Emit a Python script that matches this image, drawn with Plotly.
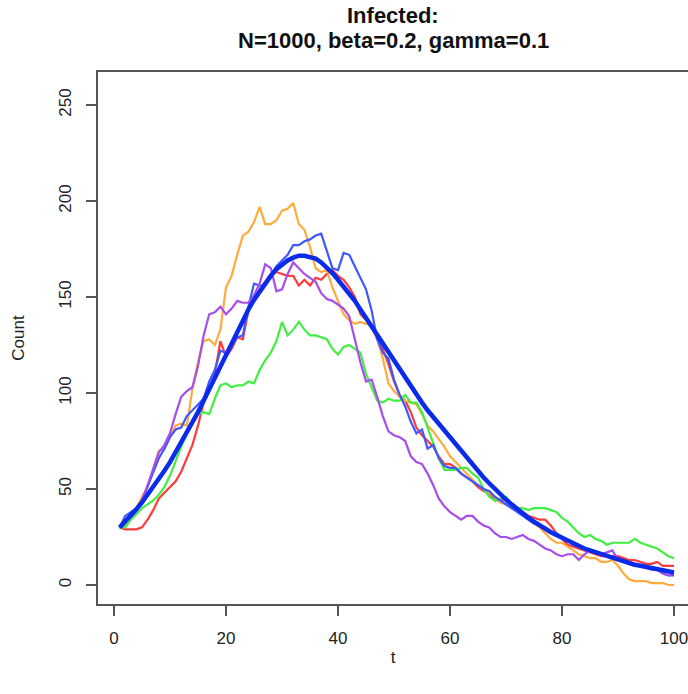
import plotly.graph_objects as go

# Time steps
t = list(range(1, 101))

# Stochastic SIR realisations: number infected at each time step
red = [30, 29, 29, 29, 30, 34, 39, 45, 48, 51, 54, 59, 66, 73, 83, 95, 101, 110, 127, 119,
       123, 129, 128, 143, 149, 154, 158, 162, 163, 162, 161, 161, 156, 159, 156, 160, 159, 162, 164, 161,
       159, 155, 150, 141, 138, 135, 128, 123, 115, 106, 99, 96, 90, 82, 78, 75, 72, 67, 63, 63,
       61, 58, 56, 54, 51, 49, 48, 44, 44, 45, 42, 40, 38, 36, 35, 34, 34, 31, 27, 24,
       21, 20, 19, 18, 17, 16, 15, 15, 15, 15, 14, 13, 13, 12, 11, 11, 12, 10, 10, 10]

orange = [30, 31, 34, 40, 46, 51, 60, 70, 71, 77, 83, 84, 83, 102, 116, 127, 128, 125, 133, 155,
          161, 172, 182, 184, 189, 197, 188, 188, 190, 195, 196, 199, 188, 185, 176, 165, 163, 164, 155, 148,
          141, 138, 136, 137, 136, 136, 128, 118, 105, 101, 98, 96, 95, 94, 89, 83, 80, 76, 72, 67,
          64, 61, 58, 55, 52, 50, 48, 46, 43, 42, 40, 39, 37, 34, 32, 30, 27, 24, 22, 22,
          20, 18, 16, 15, 14, 14, 12, 12, 13, 10, 6, 3, 2, 2, 2, 1, 1, 1, 0, 0]

green = [30, 30, 34, 37, 40, 42, 44, 47, 51, 57, 65, 72, 79, 84, 89, 90, 89, 97, 104, 105,
         103, 104, 104, 106, 105, 112, 117, 121, 127, 137, 130, 133, 137, 133, 130, 130, 129, 128, 123, 120,
         124, 125, 123, 121, 110, 103, 96, 95, 97, 96, 96, 99, 95, 95, 90, 82, 74, 66, 60, 60,
         60, 61, 61, 58, 56, 50, 46, 44, 45, 46, 42, 40, 40, 39, 40, 40, 40, 39, 38, 35,
         33, 30, 27, 25, 26, 24, 23, 21, 22, 22, 22, 22, 24, 22, 21, 20, 19, 17, 15, 14]

blue = [30, 36, 38, 40, 44, 51, 58, 66, 71, 77, 81, 82, 88, 91, 94, 97, 106, 112, 122, 121,
        125, 129, 130, 145, 157, 156, 156, 161, 166, 169, 172, 177, 177, 179, 180, 182, 183, 174, 165, 164,
        173, 172, 166, 160, 154, 143, 128, 121, 118, 107, 99, 93, 85, 79, 81, 71, 73, 66, 62, 61,
        61, 58, 56, 54, 52, 50, 49, 46, 44, 42, 40, 38, 36, 34, 32, 31, 30, 28, 27, 25,
        23, 21, 20, 19, 18, 17, 16, 15, 14, 14, 13, 12, 11, 10, 10, 9, 8, 6, 5, 5]

purple = [30, 33, 36, 40, 44, 52, 61, 69, 73, 79, 89, 98, 101, 103, 114, 130, 141, 142, 145, 141,
          144, 148, 147, 147, 151, 157, 167, 165, 153, 154, 162, 168, 165, 162, 160, 158, 152, 149, 148, 146,
          144, 140, 128, 116, 106, 107, 98, 88, 80, 78, 77, 75, 67, 64, 63, 58, 52, 45, 41, 38,
          36, 34, 36, 36, 33, 31, 30, 27, 25, 25, 24, 25, 26, 24, 23, 21, 19, 18, 16, 15,
          16, 16, 13, 16, 18, 17, 16, 17, 18, 13, 12, 11, 10, 10, 9, 8, 8, 6, 5, 6]

# Deterministic SIR solution
deterministic = [30, 33, 36, 39.5, 43, 47, 51, 55, 59.5, 64, 69, 74, 79, 84.5, 90, 96, 102, 108, 114, 120,
                 126, 132, 138, 143.5, 148.5, 153, 157, 161, 164.5, 167, 169, 170.5, 171.5, 171.5, 171, 170, 168, 165.5, 162.5, 159,
                 155.5, 152, 148, 143.5, 139, 134.5, 130, 125.5, 121, 116.5, 112, 107.5, 103, 99, 95, 91, 87.5, 84, 80.5, 77,
                 73.5, 70, 66, 62.5, 59, 56, 53, 50, 47, 44.5, 42, 39.5, 37, 35, 33, 31, 29, 27.5, 26, 24.5,
                 23, 21.5, 20, 19, 18, 17, 16, 15, 14, 13, 12, 11, 10.5, 10, 9.5, 9, 8, 7.5, 7, 6.5]

y_ticks = [0, 50, 100, 150, 200, 250]
x_ticks = [0, 20, 40, 60, 80, 100]

title_lines = ["Infected:", "N=1000, beta=0.2, gamma=0.1"]

runs = [
    (red, "#FF3A3A"),
    (orange, "#FFAA3C"),
    (green, "#42EE42"),
    (blue, "#3D58FF"),
    (purple, "#A64DEE"),
]

fig = go.Figure()
for values, colour in runs:
    fig.add_trace(go.Scatter(x=t, y=values, mode="lines",
                             line=dict(color=colour, width=2.2), hoverinfo="skip"))
fig.add_trace(go.Scatter(x=t, y=deterministic, mode="lines",
                         line=dict(color="#0B2BEB", width=4.5), hoverinfo="skip"))

font_family = "Liberation Sans, Arial, sans-serif"
axis_line = "#555555"

# Two-line bold title, placed above the plotting region
for i, line in enumerate(title_lines):
    fig.add_annotation(
        text=f"<b>{line}</b>", xref="paper", yref="paper",
        x=0.5, y=1.107 - i * 0.047, xanchor="center", yanchor="middle",
        showarrow=False, font=dict(family=font_family, size=22, color="#111111"),
    )

fig.update_layout(
    width=688, height=694,
    margin=dict(l=98, r=0, t=72, b=90),
    paper_bgcolor="white", plot_bgcolor="white",
    showlegend=False,
    font=dict(family=font_family, size=17, color="#222222"),
    xaxis=dict(
        range=[-2.86, 102.5], tickvals=x_ticks, ticktext=[str(v) for v in x_ticks],
        showgrid=False, zeroline=False,
        showline=True, mirror=True, linecolor=axis_line, linewidth=1.5,
        ticks="outside", ticklen=10, tickwidth=1.5, tickcolor=axis_line,
        ticklabelstandoff=8, ticklabeloverflow="allow",
        title=dict(text="t", standoff=4, font=dict(size=17)),
    ),
    yaxis=dict(
        range=[-9.9, 267.2], tickvals=y_ticks, ticktext=[str(v) for v in y_ticks],
        tickangle=-90,
        showgrid=False, zeroline=False,
        showline=True, mirror=False, linecolor=axis_line, linewidth=1.5,
        ticks="outside", ticklen=10, tickwidth=1.5, tickcolor=axis_line,
        ticklabelstandoff=8,
        title=dict(text="Count", standoff=28, font=dict(size=17)),
    ),
)

fig.write_html("out.html")
